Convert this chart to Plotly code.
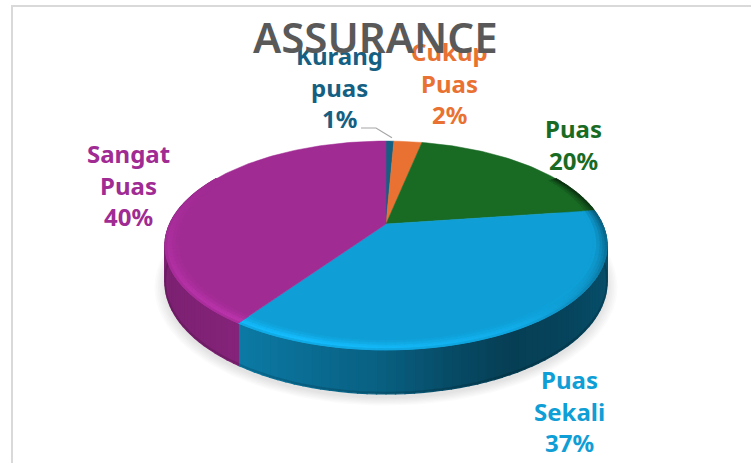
import numpy as np
import plotly.graph_objects as go

# ---- data ----
categories = ["Kurang puas", "Cukup Puas", "Puas", "Puas Sekali", "Sangat Puas"]
values = [0.7, 2.5, 19.6, 36.8, 40.4]
title_text = "ASSURANCE"

# ---- style / layout ----
colors = ["#156082", "#E97132", "#196B24", "#0F9ED5", "#A02B93"]
label_lines = [["Kurang", "puas"], ["Cukup", "Puas"], ["Puas"], ["Puas", "Sekali"], ["Sangat", "Puas"]]
label_x = [339, 449, 573, 569, 128]
label_y0 = [55.5, 51.5, 128.5, 379.5, 153.5]
line_gap = 31.7
W, H = 751, 463
cx, cy, a, b, k, depth = 386.0, 224.0, 216.3, 100.0, 0.2057, 35.0
# wall shade by screen x: (x, brightness multiplier)
shade_x = [165, 237, 300, 386, 450, 510, 570, 607]
shade_f = [0.80, 0.78, 0.70, 0.60, 0.48, 0.40, 0.44, 0.50]


def proj(t, r=1.0, h=0.0):
    u, v = r * np.sin(t), r * np.cos(t)
    w = 1 + k * v
    return cx + a * u / w, cy - (b * v - h) / w


def rgb(c):
    return np.array([int(c[i:i + 2], 16) for i in (1, 3, 5)], float)


def css(arr):
    arr = np.clip(arr, 0, 255).astype(int)
    return f"rgb({arr[0]},{arr[1]},{arr[2]})"


def poly(x, y, color, lw=1.2):
    return go.Scatter(x=list(x), y=list(y), mode="lines", fill="toself", fillcolor=color,
                      line=dict(color=color, width=lw), hoverinfo="skip", showlegend=False)


fig = go.Figure()
edges = np.cumsum([0] + values) / sum(values) * 2 * np.pi


def slice_of(t):
    return int(np.clip(np.searchsorted(edges, t % (2 * np.pi), side="right") - 1, 0, len(values) - 1))


# soft shadow under the pie
ts = np.linspace(0, 2 * np.pi, 181)
for i in range(7):
    grow = 1.045 - i * 0.007
    x, y = proj(ts, grow, depth + 3)
    fig.add_trace(go.Scatter(x=x, y=y, mode="lines", fill="toself", fillcolor="rgba(90,90,90,0.025)",
                             line=dict(width=0), hoverinfo="skip", showlegend=False))

# side wall: one column per angular step
steps = np.unique(np.concatenate([np.arange(60, 301, 2.0) * np.pi / 180,
                                  edges[(edges > np.pi / 3) & (edges < 5 * np.pi / 3)]]))
for t0, t1 in zip(steps[:-1], steps[1:]):
    tm = (t0 + t1) / 2
    base = rgb(colors[slice_of(tm)])
    xm, _ = proj(tm)
    f = np.interp(xm, shade_x, shade_f)
    if slice_of(tm) == 4:
        f = 0.78 + 0.05 * (xm - 165) / 72
    x0, y0 = proj(t0, 1, 0)
    x1, y1 = proj(t1, 1, 0)
    x2, y2 = proj(t1, 1, depth)
    x3, y3 = proj(t0, 1, depth)
    fig.add_trace(poly([x0, x1, x2, x3, x0], [y0, y1, y2, y3, y0], css(base * f), 1.3))

# darker lower edge of the wall
tw = np.linspace(np.deg2rad(85), np.deg2rad(275), 120)
xw, yw = proj(tw, 1, depth - 1)
fig.add_trace(go.Scatter(x=xw, y=yw, mode="lines", line=dict(color="rgba(0,0,0,0.14)", width=2),
                         hoverinfo="skip", showlegend=False))

# top faces
for i, c in enumerate(colors):
    t = np.linspace(edges[i], edges[i + 1], max(3, int(values[i] * 3)))
    x, y = proj(t)
    fig.add_trace(poly(np.r_[cx, x, cx], np.r_[cy, y, cy], c, 0.5))

# bevel highlight along the front rim
rsteps = [0.94, 0.955, 0.97, 0.982, 0.992, 1.0]
rlight = [0.04, 0.09, 0.15, 0.18, 0.08]
for t0, t1 in zip(steps[:-1], steps[1:]):
    tm = (t0 + t1) / 2
    base = rgb(colors[slice_of(tm)])
    # stronger on the lower left, darker towards the right
    light = np.clip(1.0 - abs(tm - np.deg2rad(200)) / np.deg2rad(100), 0.0, 1.0)
    dark = np.clip((np.deg2rad(150) - tm) / np.deg2rad(90), 0.0, 1.0)
    for j in range(5):
        x0, y0 = proj(t0, rsteps[j])
        x1, y1 = proj(t1, rsteps[j])
        x2, y2 = proj(t1, rsteps[j + 1])
        x3, y3 = proj(t0, rsteps[j + 1])
        col = base * (1 + rlight[j] * light) + 20 * rlight[j] * light
        col = col * (1 - 0.55 * dark * (j / 4))
        fig.add_trace(poly([x0, x1, x2, x3, x0], [y0, y1, y2, y3, y0], css(col), 0.9))

# leader line of the smallest slice
mid = (edges[0] + edges[1]) / 2
tipx, tipy = proj(mid, 1.0, -4)
fig.add_trace(go.Scatter(x=[361, 376, tipx + 2], y=[128, 128, tipy], mode="lines",
                         line=dict(color="#A6A6A6", width=1.2), hoverinfo="skip", showlegend=False))

# frame + annotations
shapes = [
    dict(type="line", xref="paper", yref="paper", x0=12 / W, x1=1, y0=1 - 6 / H, y1=1 - 6 / H,
         line=dict(color="#D9D9D9", width=2)),
    dict(type="line", xref="paper", yref="paper", x0=12 / W, x1=12 / W, y0=1 - 5 / H, y1=0,
         line=dict(color="#D9D9D9", width=2)),
]
anns = []
FONT = "Noto Sans"
for i, cat in enumerate(categories):
    lines = label_lines[i] + [f"{round(values[i])}%"]
    for j, txt in enumerate(lines):
        anns.append(dict(x=label_x[i], y=label_y0[i] + j * line_gap, text=f"<b>{txt}</b>", showarrow=False,
                         xanchor="center", yanchor="middle",
                         font=dict(family=FONT, size=24, color=colors[i])))
anns.append(dict(x=375, y=36, text=title_text, showarrow=False, xanchor="center", yanchor="middle",
                 font=dict(family=FONT, size=42, color="#595959", weight=600)))

fig.update_layout(
    width=W, height=H, margin=dict(l=0, r=0, t=0, b=0), showlegend=False,
    paper_bgcolor="white", plot_bgcolor="white", shapes=shapes, annotations=anns,
    xaxis=dict(range=[0, W], visible=False, fixedrange=True),
    yaxis=dict(range=[H, 0], visible=False, fixedrange=True),
)
fig.write_html("out.html", config={"displayModeBar": False},
               post_script="document.body.style.margin='0';document.documentElement.style.overflow='hidden';")
